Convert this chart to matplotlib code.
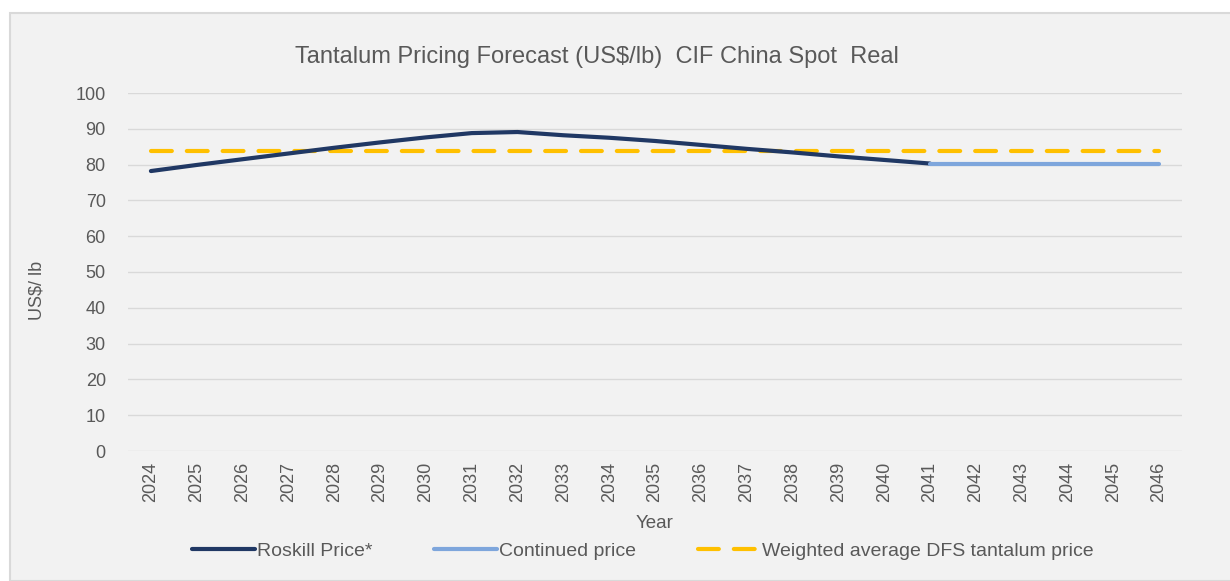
import numpy as np
import matplotlib
matplotlib.use("Agg")
import matplotlib.pyplot as plt
from matplotlib.patches import Rectangle

plt.rcParams['font.family'] = ['Liberation Sans', 'DejaVu Sans']

years = list(range(2024, 2047))
roskill_years = list(range(2024, 2042))
roskill_price = [78.2, 79.9, 81.5, 83.1, 84.7, 86.2, 87.6, 88.8, 89.1,
                 88.2, 87.5, 86.6, 85.5, 84.4, 83.4, 82.3, 81.3, 80.3]
continued_years = list(range(2041, 2047))
continued_price = [80.3, 80.3, 80.3, 80.3, 80.3, 80.3]
weighted_price = [83.7] * len(years)

txt = '#595959'
W, H = 1230, 581
fig = plt.figure(figsize=(W / 100, H / 100), dpi=100)
fig.patch.set_facecolor('white')
# chart frame
fig.patches.append(Rectangle((10 / W, 0), 1.0, 1 - 13 / H, transform=fig.transFigure,
                             facecolor='#f2f2f2', edgecolor='#d9d9d9', lw=1.5, zorder=-5))

ax = fig.add_axes([128 / W, 1 - 451 / H, (1182 - 128) / W, (451 - 93) / H])
ax.set_facecolor('none')
ax.set_zorder(2)

idx = {y: i for i, y in enumerate(years)}
ax.plot([idx[y] for y in years], weighted_price, color='#ffc000', lw=3,
        dashes=(5, 3.6), solid_capstyle='round', dash_capstyle='round', zorder=3,
        label='Weighted average DFS tantalum price')
ax.plot([idx[y] for y in roskill_years], roskill_price, color='#203864', lw=3,
        solid_capstyle='round', zorder=4, label='Roskill Price*')
ax.plot([idx[y] for y in continued_years], continued_price, color='#7ea6dc', lw=3,
        solid_capstyle='round', zorder=4, label='Continued price')

ax.set_xlim(-0.5, len(years) - 0.5)
ax.set_ylim(0, 100)
ax.set_yticks(np.arange(0, 101, 10))
ax.set_xticks(range(len(years)))
ax.set_xticklabels([str(y) for y in years], rotation=90)
ax.tick_params(length=0, labelsize=13, colors=txt)
ax.tick_params(axis='y', pad=16)
ax.tick_params(axis='x', pad=8)
ax.grid(axis='y', color='#d9d9d9', lw=1)
for s in ax.spines.values():
    s.set_visible(False)

fig.text(597 / W, 1 - 57 / H, 'Tantalum Pricing Forecast (US$/lb)  CIF China Spot  Real',
         ha='center', va='center', fontsize=17, color=txt)
fig.text(37 / W, 1 - 290 / H, 'US$/ lb', rotation=90, ha='center', va='center',
         fontsize=13, color=txt)
fig.text(655 / W, 1 - 524 / H, 'Year', ha='center', va='center', fontsize=13.5, color=txt)

h, l = ax.get_legend_handles_labels()
order = [1, 2, 0]
fig.legend([h[i] for i in order], [l[i] for i in order], loc='center',
           bbox_to_anchor=(643 / W, 1 - 551 / H), ncol=3, frameon=False,
           fontsize=14, labelcolor=txt, handlelength=3.2, handletextpad=0.1,
           columnspacing=3.2)

fig.savefig('out.png', dpi=100, facecolor='white')
